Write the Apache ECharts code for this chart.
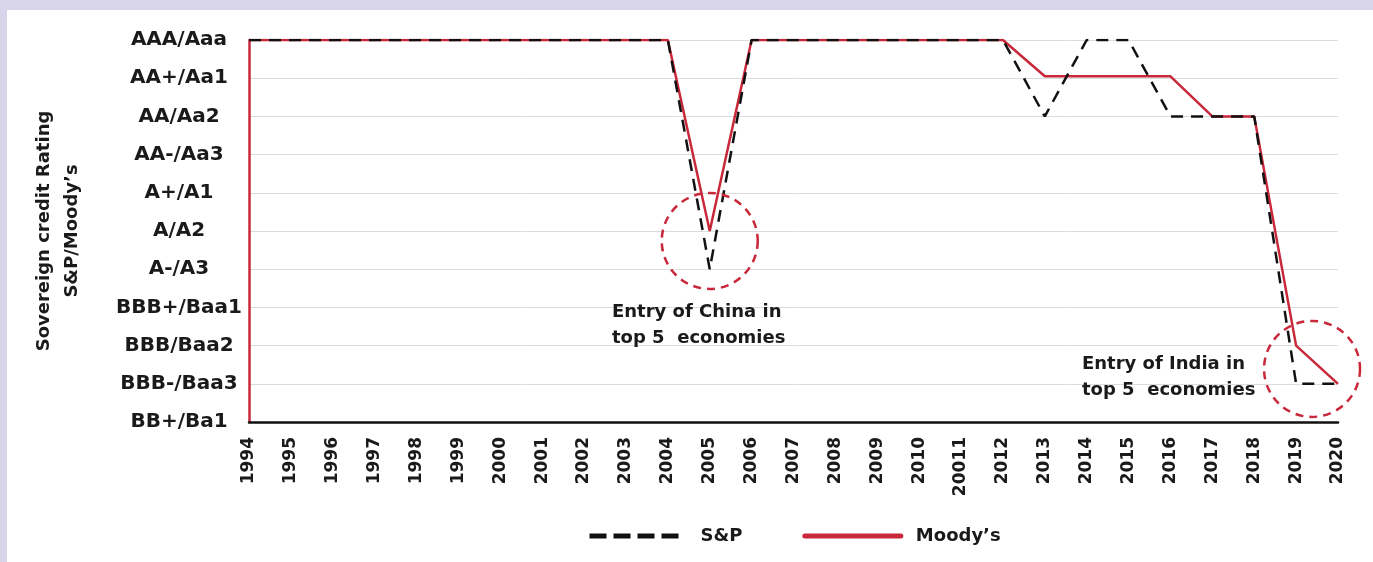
<!DOCTYPE html>
<html>
<head>
<meta charset="utf-8">
<script src="https://cdn.jsdelivr.net/npm/echarts@6/dist/echarts.min.js"></script>
<style>
html,body{margin:0;padding:0;background:#d8d4ea;overflow:hidden;}
#panel{position:absolute;left:7px;top:10px;right:0;bottom:0;background:#ffffff;}
#chart{position:absolute;left:0;top:0;width:1373px;height:562px;}
</style>
</head>
<body>
<div id="panel"></div>
<div id="chart"></div>
<script>
// ---- data ----
const years = ['1994','1995','1996','1997','1998','1999','2000','2001','2002','2003','2004','2005','2006','2007','2008','2009','2010','20011','2012','2013','2014','2015','2016','2017','2018','2019','2020'];
const ratingLabels = ['BB+/Ba1','BBB-/Baa3','BBB/Baa2','BBB+/Baa1','A-/A3','A/A2','A+/A1','AA-/Aa3','AA/Aa2','AA+/Aa1','AAA/Aaa'];
const spValues = [10,10,10,10,10,10,10,10,10,10,10,4,10,10,10,10,10,10,10,8,10,10,8,8,8,1,1];
const moodysValues = [10,10,10,10,10,10,10,10,10,10,10,5,10,10,10,10,10,10,10,9.05,9.05,9.05,9.05,8,8,2,1];
const seriesNames = ['S&P', 'Moody\u2019s'];
const yAxisTitle = 'Sovereign credit Rating\nS&P/Moody\u2019s';
const notes = ['Entry of China in\ntop 5  economies', 'Entry of India in\ntop 5  economies'];
// annotation circle centres in data terms: [category index, rating value]
const circleChina = [11, 4.74];
const circleIndia = [25.38, 1.39];

const FONT = '"DejaVu Sans", sans-serif';
const RED = '#c8283a';
const INK = '#1a1a1a';

const chart = echarts.init(document.getElementById('chart'), null, {renderer:'canvas'});
const option = {
  backgroundColor: 'transparent',
  animation: false,
  grid: {left: 249, right: 35, top: 40, bottom: 140},
  xAxis: {
    type: 'category',
    data: years,
    boundaryGap: false,
    axisTick: {show: false},
    axisLine: {show: true, lineStyle: {color: '#111111', width: 2.5}},
    axisLabel: {rotate: 90, margin: 15, interval: 0, fontFamily: FONT, fontWeight: 'bold', fontSize: 17, color: INK},
    splitLine: {show: false}
  },
  yAxis: {
    type: 'value',
    min: 0, max: 10, interval: 1,
    name: yAxisTitle,
    nameLocation: 'middle',
    nameRotate: 90,
    nameGap: 163,
    nameTextStyle: {fontFamily: FONT, fontWeight: 'bold', fontSize: 18, color: INK, lineHeight: 28, align: 'center'},
    axisLine: {show: true, lineStyle: {color: RED, width: 2.5}},
    axisTick: {show: false},
    axisLabel: {
      align: 'center', margin: 70,
      fontFamily: FONT, fontWeight: 'bold', fontSize: 20, color: INK,
      formatter: v => ratingLabels[Math.round(v)] || ''
    },
    splitLine: {show: true, lineStyle: {color: '#dcdcdc', width: 1}}
  },
  legend: {
    left: 582, top: 522,
    itemWidth: 96, itemHeight: 14, itemGap: 60,
    textStyle: {fontFamily: FONT, fontWeight: 'bold', fontSize: 18, color: INK, padding: [0,0,0,10]},
    data: [
      {name: seriesNames[0], lineStyle: {width: 5, type: [17, 7], color: '#111111'}, itemStyle: {opacity: 0, color: 'transparent', borderWidth: 0}},
      {name: seriesNames[1], lineStyle: {width: 5, color: RED, cap: 'round'}, itemStyle: {opacity: 0, color: 'transparent', borderWidth: 0}}
    ]
  },
  series: [
    {
      name: seriesNames[1], type: 'line', data: moodysValues,
      symbol: 'none', z: 2,
      lineStyle: {color: RED, width: 2.5},
      itemStyle: {color: RED}
    },
    {
      name: seriesNames[0], type: 'line', data: spValues,
      symbol: 'none', z: 3,
      lineStyle: {color: '#111111', width: 2.5, type: [12, 8]},
      itemStyle: {color: '#111111'}
    }
  ]
};
chart.setOption(option);

// pixel position for a (possibly fractional) category index
function dataPx(pt) {
  const i0 = Math.floor(pt[0]);
  const a = chart.convertToPixel({gridIndex: 0}, [i0, pt[1]]);
  const b = chart.convertToPixel({gridIndex: 0}, [Math.min(i0 + 1, years.length - 1), pt[1]]);
  const step = (i0 + 1 <= years.length - 1) ? (b[0] - a[0]) : 0;
  return [a[0] + step * (pt[0] - i0), a[1]];
}
const p1 = dataPx(circleChina);
const p2 = dataPx(circleIndia);
const circleStyle = {fill: 'none', stroke: RED, lineWidth: 2.5, lineDash: [8, 6]};
const textStyle = {font: 'bold 18px "DejaVu Sans", sans-serif', fill: INK, lineHeight: 26};
chart.setOption({
  graphic: [
    {type: 'circle', shape: {cx: p1[0], cy: p1[1], r: 48}, style: circleStyle, z: 10},
    {type: 'circle', shape: {cx: p2[0], cy: p2[1], r: 48}, style: circleStyle, z: 10},
    {type: 'text', left: 612, top: 299, style: Object.assign({text: notes[0]}, textStyle), z: 10},
    {type: 'text', left: 1082, top: 351, style: Object.assign({text: notes[1]}, textStyle), z: 10}
  ]
});
</script>
</body>
</html>
